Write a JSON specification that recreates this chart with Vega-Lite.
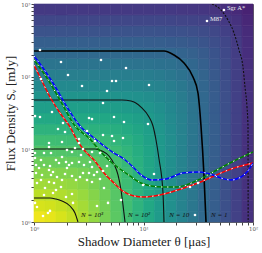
{
"$schema":"https://vega.github.io/schema/vega-lite/v6.json",
"width":219,"height":218,
"autosize":"none",
"padding":{"left":34,"top":4,"right":9,"bottom":31},
"background":"white",
"config":{"view":{"stroke":"#666","strokeWidth":1}},
"datasets":{
"grid":[
{"i":0,"j":0,"L":3.28},{"i":1,"j":0,"L":3.21},{"i":2,"j":0,"L":3.10},{"i":3,"j":0,"L":2.96},{"i":4,"j":0,"L":2.78},{"i":5,"j":0,"L":2.58},{"i":6,"j":0,"L":2.35},{"i":7,"j":0,"L":2.11},{"i":8,"j":0,"L":1.86},{"i":9,"j":0,"L":1.60},{"i":10,"j":0,"L":1.35},{"i":11,"j":0,"L":1.09},{"i":12,"j":0,"L":0.83},{"i":13,"j":0,"L":0.57},{"i":14,"j":0,"L":0.31},{"i":15,"j":0,"L":0.05},{"i":16,"j":0,"L":-0.21},{"i":17,"j":0,"L":-0.47},{"i":18,"j":0,"L":-0.73},{"i":19,"j":0,"L":-0.99},
{"i":0,"j":1,"L":3.09},{"i":1,"j":1,"L":3.05},{"i":2,"j":1,"L":2.97},{"i":3,"j":1,"L":2.86},{"i":4,"j":1,"L":2.72},{"i":5,"j":1,"L":2.53},{"i":6,"j":1,"L":2.32},{"i":7,"j":1,"L":2.09},{"i":8,"j":1,"L":1.85},{"i":9,"j":1,"L":1.60},{"i":10,"j":1,"L":1.35},{"i":11,"j":1,"L":1.09},{"i":12,"j":1,"L":0.83},{"i":13,"j":1,"L":0.57},{"i":14,"j":1,"L":0.31},{"i":15,"j":1,"L":0.05},{"i":16,"j":1,"L":-0.21},{"i":17,"j":1,"L":-0.47},{"i":18,"j":1,"L":-0.73},{"i":19,"j":1,"L":-0.99},
{"i":0,"j":2,"L":2.89},{"i":1,"j":2,"L":2.86},{"i":2,"j":2,"L":2.81},{"i":3,"j":2,"L":2.73},{"i":4,"j":2,"L":2.62},{"i":5,"j":2,"L":2.47},{"i":6,"j":2,"L":2.28},{"i":7,"j":2,"L":2.07},{"i":8,"j":2,"L":1.83},{"i":9,"j":2,"L":1.59},{"i":10,"j":2,"L":1.34},{"i":11,"j":2,"L":1.09},{"i":12,"j":2,"L":0.83},{"i":13,"j":2,"L":0.57},{"i":14,"j":2,"L":0.31},{"i":15,"j":2,"L":0.05},{"i":16,"j":2,"L":-0.21},{"i":17,"j":2,"L":-0.47},{"i":18,"j":2,"L":-0.73},{"i":19,"j":2,"L":-0.99},
{"i":0,"j":3,"L":2.69},{"i":1,"j":3,"L":2.67},{"i":2,"j":3,"L":2.63},{"i":3,"j":3,"L":2.58},{"i":4,"j":3,"L":2.50},{"i":5,"j":3,"L":2.38},{"i":6,"j":3,"L":2.22},{"i":7,"j":3,"L":2.03},{"i":8,"j":3,"L":1.81},{"i":9,"j":3,"L":1.58},{"i":10,"j":3,"L":1.33},{"i":11,"j":3,"L":1.08},{"i":12,"j":3,"L":0.83},{"i":13,"j":3,"L":0.57},{"i":14,"j":3,"L":0.31},{"i":15,"j":3,"L":0.05},{"i":16,"j":3,"L":-0.21},{"i":17,"j":3,"L":-0.47},{"i":18,"j":3,"L":-0.73},{"i":19,"j":3,"L":-0.99},
{"i":0,"j":4,"L":2.47},{"i":1,"j":4,"L":2.46},{"i":2,"j":4,"L":2.44},{"i":3,"j":4,"L":2.41},{"i":4,"j":4,"L":2.35},{"i":5,"j":4,"L":2.26},{"i":6,"j":4,"L":2.14},{"i":7,"j":4,"L":1.97},{"i":8,"j":4,"L":1.78},{"i":9,"j":4,"L":1.56},{"i":10,"j":4,"L":1.32},{"i":11,"j":4,"L":1.07},{"i":12,"j":4,"L":0.82},{"i":13,"j":4,"L":0.57},{"i":14,"j":4,"L":0.31},{"i":15,"j":4,"L":0.05},{"i":16,"j":4,"L":-0.21},{"i":17,"j":4,"L":-0.47},{"i":18,"j":4,"L":-0.73},{"i":19,"j":4,"L":-0.99},
{"i":0,"j":5,"L":2.25},{"i":1,"j":5,"L":2.24},{"i":2,"j":5,"L":2.23},{"i":3,"j":5,"L":2.21},{"i":4,"j":5,"L":2.17},{"i":5,"j":5,"L":2.11},{"i":6,"j":5,"L":2.02},{"i":7,"j":5,"L":1.89},{"i":8,"j":5,"L":1.72},{"i":9,"j":5,"L":1.52},{"i":10,"j":5,"L":1.30},{"i":11,"j":5,"L":1.06},{"i":12,"j":5,"L":0.81},{"i":13,"j":5,"L":0.56},{"i":14,"j":5,"L":0.31},{"i":15,"j":5,"L":0.05},{"i":16,"j":5,"L":-0.21},{"i":17,"j":5,"L":-0.47},{"i":18,"j":5,"L":-0.73},{"i":19,"j":5,"L":-0.99},
{"i":0,"j":6,"L":2.04},{"i":1,"j":6,"L":2.03},{"i":2,"j":6,"L":2.02},{"i":3,"j":6,"L":2.01},{"i":4,"j":6,"L":1.99},{"i":5,"j":6,"L":1.95},{"i":6,"j":6,"L":1.88},{"i":7,"j":6,"L":1.78},{"i":8,"j":6,"L":1.65},{"i":9,"j":6,"L":1.47},{"i":10,"j":6,"L":1.27},{"i":11,"j":6,"L":1.04},{"i":12,"j":6,"L":0.80},{"i":13,"j":6,"L":0.56},{"i":14,"j":6,"L":0.30},{"i":15,"j":6,"L":0.05},{"i":16,"j":6,"L":-0.21},{"i":17,"j":6,"L":-0.47},{"i":18,"j":6,"L":-0.73},{"i":19,"j":6,"L":-0.99},
{"i":0,"j":7,"L":1.82},{"i":1,"j":7,"L":1.82},{"i":2,"j":7,"L":1.81},{"i":3,"j":7,"L":1.80},{"i":4,"j":7,"L":1.79},{"i":5,"j":7,"L":1.76},{"i":6,"j":7,"L":1.72},{"i":7,"j":7,"L":1.65},{"i":8,"j":7,"L":1.54},{"i":9,"j":7,"L":1.40},{"i":10,"j":7,"L":1.22},{"i":11,"j":7,"L":1.02},{"i":12,"j":7,"L":0.79},{"i":13,"j":7,"L":0.55},{"i":14,"j":7,"L":0.30},{"i":15,"j":7,"L":0.05},{"i":16,"j":7,"L":-0.21},{"i":17,"j":7,"L":-0.47},{"i":18,"j":7,"L":-0.73},{"i":19,"j":7,"L":-0.99},
{"i":0,"j":8,"L":1.59},{"i":1,"j":8,"L":1.59},{"i":2,"j":8,"L":1.59},{"i":3,"j":8,"L":1.58},{"i":4,"j":8,"L":1.57},{"i":5,"j":8,"L":1.56},{"i":6,"j":8,"L":1.53},{"i":7,"j":8,"L":1.48},{"i":8,"j":8,"L":1.41},{"i":9,"j":8,"L":1.30},{"i":10,"j":8,"L":1.16},{"i":11,"j":8,"L":0.97},{"i":12,"j":8,"L":0.76},{"i":13,"j":8,"L":0.53},{"i":14,"j":8,"L":0.29},{"i":15,"j":8,"L":0.04},{"i":16,"j":8,"L":-0.21},{"i":17,"j":8,"L":-0.47},{"i":18,"j":8,"L":-0.73},{"i":19,"j":8,"L":-0.99},
{"i":0,"j":9,"L":1.37},{"i":1,"j":9,"L":1.37},{"i":2,"j":9,"L":1.37},{"i":3,"j":9,"L":1.36},{"i":4,"j":9,"L":1.36},{"i":5,"j":9,"L":1.35},{"i":6,"j":9,"L":1.33},{"i":7,"j":9,"L":1.30},{"i":8,"j":9,"L":1.25},{"i":9,"j":9,"L":1.17},{"i":10,"j":9,"L":1.06},{"i":11,"j":9,"L":0.91},{"i":12,"j":9,"L":0.72},{"i":13,"j":9,"L":0.51},{"i":14,"j":9,"L":0.27},{"i":15,"j":9,"L":0.03},{"i":16,"j":9,"L":-0.22},{"i":17,"j":9,"L":-0.47},{"i":18,"j":9,"L":-0.73},{"i":19,"j":9,"L":-0.99},
{"i":0,"j":10,"L":1.15},{"i":1,"j":10,"L":1.15},{"i":2,"j":10,"L":1.15},{"i":3,"j":10,"L":1.15},{"i":4,"j":10,"L":1.14},{"i":5,"j":10,"L":1.14},{"i":6,"j":10,"L":1.12},{"i":7,"j":10,"L":1.11},{"i":8,"j":10,"L":1.07},{"i":9,"j":10,"L":1.02},{"i":10,"j":10,"L":0.94},{"i":11,"j":10,"L":0.82},{"i":12,"j":10,"L":0.66},{"i":13,"j":10,"L":0.47},{"i":14,"j":10,"L":0.25},{"i":15,"j":10,"L":0.02},{"i":16,"j":10,"L":-0.23},{"i":17,"j":10,"L":-0.48},{"i":18,"j":10,"L":-0.73},{"i":19,"j":10,"L":-0.99},
{"i":0,"j":11,"L":0.93},{"i":1,"j":11,"L":0.93},{"i":2,"j":11,"L":0.93},{"i":3,"j":11,"L":0.93},{"i":4,"j":11,"L":0.93},{"i":5,"j":11,"L":0.92},{"i":6,"j":11,"L":0.92},{"i":7,"j":11,"L":0.90},{"i":8,"j":11,"L":0.88},{"i":9,"j":11,"L":0.85},{"i":10,"j":11,"L":0.79},{"i":11,"j":11,"L":0.70},{"i":12,"j":11,"L":0.58},{"i":13,"j":11,"L":0.41},{"i":14,"j":11,"L":0.22},{"i":15,"j":11,"L":0.00},{"i":16,"j":11,"L":-0.24},{"i":17,"j":11,"L":-0.49},{"i":18,"j":11,"L":-0.74},{"i":19,"j":11,"L":-0.99},
{"i":0,"j":12,"L":0.70},{"i":1,"j":12,"L":0.70},{"i":2,"j":12,"L":0.70},{"i":3,"j":12,"L":0.70},{"i":4,"j":12,"L":0.70},{"i":5,"j":12,"L":0.69},{"i":6,"j":12,"L":0.69},{"i":7,"j":12,"L":0.68},{"i":8,"j":12,"L":0.67},{"i":9,"j":12,"L":0.65},{"i":10,"j":12,"L":0.61},{"i":11,"j":12,"L":0.55},{"i":12,"j":12,"L":0.46},{"i":13,"j":12,"L":0.33},{"i":14,"j":12,"L":0.16},{"i":15,"j":12,"L":-0.04},{"i":16,"j":12,"L":-0.26},{"i":17,"j":12,"L":-0.50},{"i":18,"j":12,"L":-0.75},{"i":19,"j":12,"L":-0.99},
{"i":0,"j":13,"L":0.48},{"i":1,"j":13,"L":0.48},{"i":2,"j":13,"L":0.48},{"i":3,"j":13,"L":0.48},{"i":4,"j":13,"L":0.48},{"i":5,"j":13,"L":0.48},{"i":6,"j":13,"L":0.47},{"i":7,"j":13,"L":0.47},{"i":8,"j":13,"L":0.46},{"i":9,"j":13,"L":0.45},{"i":10,"j":13,"L":0.43},{"i":11,"j":13,"L":0.39},{"i":12,"j":13,"L":0.32},{"i":13,"j":13,"L":0.22},{"i":14,"j":13,"L":0.09},{"i":15,"j":13,"L":-0.09},{"i":16,"j":13,"L":-0.29},{"i":17,"j":13,"L":-0.52},{"i":18,"j":13,"L":-0.76},{"i":19,"j":13,"L":-1.00},
{"i":0,"j":14,"L":0.26},{"i":1,"j":14,"L":0.26},{"i":2,"j":14,"L":0.26},{"i":3,"j":14,"L":0.26},{"i":4,"j":14,"L":0.26},{"i":5,"j":14,"L":0.26},{"i":6,"j":14,"L":0.26},{"i":7,"j":14,"L":0.26},{"i":8,"j":14,"L":0.25},{"i":9,"j":14,"L":0.24},{"i":10,"j":14,"L":0.23},{"i":11,"j":14,"L":0.20},{"i":12,"j":14,"L":0.16},{"i":13,"j":14,"L":0.09},{"i":14,"j":14,"L":-0.02},{"i":15,"j":14,"L":-0.16},{"i":16,"j":14,"L":-0.34},{"i":17,"j":14,"L":-0.54},{"i":18,"j":14,"L":-0.77},{"i":19,"j":14,"L":-1.01},
{"i":0,"j":15,"L":0.03},{"i":1,"j":15,"L":0.03},{"i":2,"j":15,"L":0.03},{"i":3,"j":15,"L":0.03},{"i":4,"j":15,"L":0.03},{"i":5,"j":15,"L":0.03},{"i":6,"j":15,"L":0.03},{"i":7,"j":15,"L":0.03},{"i":8,"j":15,"L":0.03},{"i":9,"j":15,"L":0.03},{"i":10,"j":15,"L":0.01},{"i":11,"j":15,"L":0.00},{"i":12,"j":15,"L":-0.03},{"i":13,"j":15,"L":-0.08},{"i":14,"j":15,"L":-0.15},{"i":15,"j":15,"L":-0.26},{"i":16,"j":15,"L":-0.40},{"i":17,"j":15,"L":-0.59},{"i":18,"j":15,"L":-0.80},{"i":19,"j":15,"L":-1.03},
{"i":0,"j":16,"L":-0.19},{"i":1,"j":16,"L":-0.19},{"i":2,"j":16,"L":-0.19},{"i":3,"j":16,"L":-0.19},{"i":4,"j":16,"L":-0.19},{"i":5,"j":16,"L":-0.19},{"i":6,"j":16,"L":-0.19},{"i":7,"j":16,"L":-0.19},{"i":8,"j":16,"L":-0.19},{"i":9,"j":16,"L":-0.19},{"i":10,"j":16,"L":-0.20},{"i":11,"j":16,"L":-0.21},{"i":12,"j":16,"L":-0.23},{"i":13,"j":16,"L":-0.26},{"i":14,"j":16,"L":-0.31},{"i":15,"j":16,"L":-0.39},{"i":16,"j":16,"L":-0.50},{"i":17,"j":16,"L":-0.65},{"i":18,"j":16,"L":-0.84},{"i":19,"j":16,"L":-1.05},
{"i":0,"j":17,"L":-0.41},{"i":1,"j":17,"L":-0.41},{"i":2,"j":17,"L":-0.41},{"i":3,"j":17,"L":-0.41},{"i":4,"j":17,"L":-0.41},{"i":5,"j":17,"L":-0.41},{"i":6,"j":17,"L":-0.41},{"i":7,"j":17,"L":-0.41},{"i":8,"j":17,"L":-0.41},{"i":9,"j":17,"L":-0.41},{"i":10,"j":17,"L":-0.41},{"i":11,"j":17,"L":-0.42},{"i":12,"j":17,"L":-0.44},{"i":13,"j":17,"L":-0.45},{"i":14,"j":17,"L":-0.49},{"i":15,"j":17,"L":-0.54},{"i":16,"j":17,"L":-0.62},{"i":17,"j":17,"L":-0.74},{"i":18,"j":17,"L":-0.90},{"i":19,"j":17,"L":-1.09},
{"i":0,"j":18,"L":-0.63},{"i":1,"j":18,"L":-0.63},{"i":2,"j":18,"L":-0.63},{"i":3,"j":18,"L":-0.63},{"i":4,"j":18,"L":-0.63},{"i":5,"j":18,"L":-0.63},{"i":6,"j":18,"L":-0.63},{"i":7,"j":18,"L":-0.63},{"i":8,"j":18,"L":-0.63},{"i":9,"j":18,"L":-0.63},{"i":10,"j":18,"L":-0.63},{"i":11,"j":18,"L":-0.63},{"i":12,"j":18,"L":-0.65},{"i":13,"j":18,"L":-0.66},{"i":14,"j":18,"L":-0.68},{"i":15,"j":18,"L":-0.71},{"i":16,"j":18,"L":-0.77},{"i":17,"j":18,"L":-0.86},{"i":18,"j":18,"L":-0.98},{"i":19,"j":18,"L":-1.15},
{"i":0,"j":19,"L":-0.86},{"i":1,"j":19,"L":-0.86},{"i":2,"j":19,"L":-0.86},{"i":3,"j":19,"L":-0.86},{"i":4,"j":19,"L":-0.86},{"i":5,"j":19,"L":-0.86},{"i":6,"j":19,"L":-0.86},{"i":7,"j":19,"L":-0.86},{"i":8,"j":19,"L":-0.86},{"i":9,"j":19,"L":-0.86},{"i":10,"j":19,"L":-0.86},{"i":11,"j":19,"L":-0.86},{"i":12,"j":19,"L":-0.86},{"i":13,"j":19,"L":-0.88},{"i":14,"j":19,"L":-0.89},{"i":15,"j":19,"L":-0.91},{"i":16,"j":19,"L":-0.95},{"i":17,"j":19,"L":-1.01},{"i":18,"j":19,"L":-1.10},{"i":19,"j":19,"L":-1.23}
],
"contours":[
{"n":"1000","x":1,"y":2.14},{"n":"1000","x":1.40,"y":2.14},{"n":"1000","x":1.588,"y":2.07},{"n":"1000","x":1.802,"y":1.945},{"n":"1000","x":2.132,"y":1.66},{"n":"1000","x":2.368,"y":1.33},{"n":"1000","x":2.52,"y":1.0},
{"n":"100","x":1,"y":10.1},{"n":"100","x":3.607,"y":10.1},{"n":"100","x":4.178,"y":9.48},{"n":"100","x":4.84,"y":8.09},{"n":"100","x":5.378,"y":6.28},{"n":"100","x":5.85,"y":4.44},{"n":"100","x":6.231,"y":2.76},{"n":"100","x":6.499,"y":1.71},{"n":"100","x":6.78,"y":1},
{"n":"10","x":1,"y":47.7},{"n":"10","x":6.365,"y":47.7},{"n":"10","x":7.69,"y":46.3},{"n":"10","x":9.489,"y":38.2},{"n":"10","x":11.23,"y":27.9},{"n":"10","x":12.21,"y":20.95},{"n":"10","x":13.01,"y":13.44},{"n":"10","x":13.86,"y":7.36},{"n":"10","x":15.07,"y":2.51},{"n":"10","x":15.39,"y":1},
{"n":"1","x":1,"y":225.5},{"n":"1","x":15.39,"y":225.5},{"n":"1","x":18.99,"y":198.6},{"n":"1","x":23.44,"y":154.2},{"n":"1","x":28.32,"y":98.9},{"n":"1","x":31.45,"y":59.6},{"n":"1","x":32.81,"y":31.6},{"n":"1","x":33.5,"y":20.95},{"n":"1","x":35.69,"y":4.3},{"n":"1","x":37.23,"y":1},
{"n":"0.1","x":42.23,"y":1000},{"n":"0.1","x":51.04,"y":826.6},{"n":"0.1","x":59.11,"y":602},{"n":"0.1","x":67.06,"y":398.9},{"n":"0.1","x":74.5,"y":232.8},{"n":"0.1","x":81.04,"y":135.8},{"n":"0.1","x":84.5,"y":72.06},{"n":"0.1","x":88.15,"y":38.2},{"n":"0.1","x":90.0,"y":20.95},{"n":"0.1","x":90.3,"y":1}
],
"curves":[
{"s":"r","x":1.00,"y":144.7},{"s":"r","x":1.134,"y":98.9},{"s":"r","x":1.40,"y":52.5},{"s":"r","x":1.728,"y":31.6},{"s":"r","x":2.132,"y":20.3},{"s":"r","x":2.471,"y":13.4},{"s":"r","x":2.862,"y":9.79},{"s":"r","x":3.532,"y":7.13},{"s":"r","x":4.357,"y":4.72},{"s":"r","x":5.378,"y":3.44},{"s":"r","x":6.635,"y":2.59},{"s":"r","x":8.19,"y":2.28},{"s":"r","x":10.11,"y":2.21},{"s":"r","x":12.47,"y":2.28},{"s":"r","x":15.39,"y":2.43},{"s":"r","x":22.01,"y":2.85},{"s":"r","x":31.45,"y":3.44},{"s":"r","x":44.04,"y":4.30},{"s":"r","x":62.96,"y":5.36},{"s":"r","x":100,"y":6.48},
{"s":"g","x":1.00,"y":169.5},{"s":"g","x":1.314,"y":95.9},{"s":"g","x":1.728,"y":47.7},{"s":"g","x":2.368,"y":20.95},{"s":"g","x":3.247,"y":13.87},{"s":"g","x":4.006,"y":9.48},{"s":"g","x":4.944,"y":6.91},{"s":"g","x":6.102,"y":5.36},{"s":"g","x":7.53,"y":4.30},{"s":"g","x":9.489,"y":3.44},{"s":"g","x":11.71,"y":3.13},{"s":"g","x":15.39,"y":3.03},{"s":"g","x":20.23,"y":3.03},{"s":"g","x":31.45,"y":3.78},{"s":"g","x":44.98,"y":5.03},{"s":"g","x":64.3,"y":6.69},{"s":"g","x":100,"y":9.19},
{"s":"b","x":1.00,"y":192.5},{"s":"b","x":1.208,"y":131.6},{"s":"b","x":1.491,"y":81.8},{"s":"b","x":2.001,"y":38.2},{"s":"b","x":2.631,"y":20.95},{"s":"b","x":3.532,"y":14.32},{"s":"b","x":4.357,"y":11.11},{"s":"b","x":5.378,"y":8.90},{"s":"b","x":6.635,"y":7.36},{"s":"b","x":7.853,"y":5.90},{"s":"b","x":9.489,"y":4.44},{"s":"b","x":11.96,"y":3.78},{"s":"b","x":16.06,"y":3.91},{"s":"b","x":22.95,"y":4.72},{"s":"b","x":32.12,"y":4.88},{"s":"b","x":40.49,"y":4.58},{"s":"b","x":51.04,"y":4.03},{"s":"b","x":62.96,"y":3.78},{"s":"b","x":77.69,"y":4.16},{"s":"b","x":88.15,"y":4.88},{"s":"b","x":100,"y":6.48}
],
"dots":[
{"x":1.134,"y":232.8},{"x":1.764,"y":159.1},{"x":4.091,"y":169.5},{"x":6.92,"y":131.6},{"x":2.044,"y":105.4},{"x":1.158,"y":92.9},{"x":5.157,"y":87.2},{"x":5.61,"y":87.2},{"x":2.744,"y":74.4},{"x":4.642,"y":63.5},
{"x":4.267,"y":43.4},{"x":1.46,"y":32.6},{"x":1.021,"y":28.7},{"x":1.134,"y":27.9},{"x":3.179,"y":27.0},{"x":3.386,"y":26.1},{"x":5.378,"y":27.9},{"x":6.635,"y":23.8},{"x":1.84,"y":23.0},{"x":11.23,"y":76.8},
{"x":10.99,"y":22.3},{"x":1.657,"y":19.05},{"x":1.919,"y":17.32},{"x":3.048,"y":17.88},{"x":4.267,"y":15.75},{"x":2.576,"y":13.87},{"x":5.157,"y":15.26},{"x":6.499,"y":14.32},{"x":1.371,"y":12.22},{"x":1.802,"y":12.62},
{"x":2.576,"y":12.22},{"x":2.223,"y":9.19},{"x":1.234,"y":8.90},{"x":1.43,"y":8.90},{"x":2.001,"y":9.79},{"x":2.687,"y":8.36},{"x":3.386,"y":9.19},{"x":1.158,"y":7.13},{"x":1.043,"y":6.09},{"x":1.234,"y":6.09},
{"x":1.588,"y":7.13},{"x":1.692,"y":6.48},{"x":1.96,"y":6.69},{"x":2.087,"y":6.09},{"x":2.223,"y":6.48},{"x":2.576,"y":6.69},{"x":1.111,"y":5.54},{"x":1.371,"y":5.19},{"x":2.001,"y":5.54},{"x":3.386,"y":5.71},
{"x":1.043,"y":4.72},{"x":1.183,"y":4.44},{"x":1.43,"y":4.44},{"x":1.622,"y":4.16},{"x":3.179,"y":4.72},{"x":3.532,"y":4.44},{"x":1.158,"y":3.78},{"x":1.371,"y":3.55},{"x":1.523,"y":3.44},{"x":1.802,"y":3.78},
{"x":2.418,"y":3.78},{"x":3.048,"y":3.78},{"x":3.386,"y":3.55},{"x":4.357,"y":2.94},{"x":1.588,"y":2.76},{"x":1.234,"y":2.35},{"x":1.96,"y":2.21},{"x":6.231,"y":2.01},{"x":3.607,"y":13.02},{"x":1.371,"y":10.77},
{"x":5.378,"y":13.02},{"x":1.021,"y":8.90},{"x":1.021,"y":7.60},{"x":1.802,"y":7.85},{"x":2.368,"y":10.43},{"x":2.802,"y":10.10},{"x":4.006,"y":8.90},{"x":1.40,"y":5.90},{"x":2.862,"y":6.09},{"x":3.247,"y":6.69},
{"x":1.491,"y":4.88},{"x":1.919,"y":4.58},{"x":2.802,"y":4.72},{"x":3.762,"y":4.88},{"x":4.267,"y":5.03},{"x":4.642,"y":5.90},{"x":2.223,"y":4.30},{"x":2.631,"y":4.16},{"x":4.006,"y":3.91},{"x":1.065,"y":3.44},
{"x":1.26,"y":2.94},{"x":1.764,"y":3.03},{"x":1.491,"y":2.51},{"x":2.223,"y":2.43},{"x":1.021,"y":1.83},{"x":3.762,"y":1.66},{"x":4.741,"y":1.83},{"x":1.40,"y":1.42},{"x":1.208,"y":1.21},{"x":2.271,"y":1.83},
{"x":1.065,"y":1.61},{"x":1.342,"y":1.33},{"x":12.47,"y":4.58},{"x":9.895,"y":3.23},{"x":26.6,"y":3.03},{"x":31.45,"y":3.44},{"x":29.53,"y":1.25},
{"x":54.3,"y":827},{"x":38.0,"y":583}
],
"nlabels":[
{"t":"N = 10³","x":2.63,"y":1.25},{"t":"N = 10²","x":7.07,"y":1.25},{"t":"N = 10","x":16.85,"y":1.25},{"t":"N = 1","x":40.5,"y":1.25}
],
"srcs":[
{"t":"Sgr A*","x":54.3,"y":827},{"t":"M87","x":38.0,"y":583}
]
},
"layer":[
{"data":{"name":"grid"},
 "mark":{"type":"rect","strokeWidth":0.6},
 "encoding":{
  "x":{"field":"i","type":"ordinal","axis":null,"scale":{"paddingInner":0,"paddingOuter":0}},
  "y":{"field":"j","type":"ordinal","axis":null,"sort":"descending","scale":{"paddingInner":0,"paddingOuter":0}},
  "fill":{"field":"L","type":"quantitative","scale":{"scheme":"viridis","domain":[-1.7,3.4]},"legend":null},
  "stroke":{"field":"L","type":"quantitative","scale":{"scheme":"viridis","domain":[-1.7,3.4]},"legend":null}
 }},
{"encoding":{
  "x":{"field":"x","type":"quantitative","scale":{"type":"log","domain":[1,100]},
   "axis":{"orient":"bottom","title":"Shadow Diameter θ [μas]","values":[1,2,3,4,5,6,7,8,9,10,20,30,40,50,60,70,80,90,100],
    "labelExpr":"datum.value==1?'10⁰':datum.value==10?'10¹':datum.value==100?'10²':''",
    "grid":false,"domain":false,"tickSize":3,"tickColor":"#444","labelFontSize":5.5,"labelColor":"#555","labelFont":"DejaVu Serif","labelPadding":1,"labelOverlap":false,"labelFlush":false,
    "titleFont":"Liberation Serif","titleFontSize":13,"titleFontWeight":"normal","titleColor":"#222","titlePadding":4}},
  "y":{"field":"y","type":"quantitative","scale":{"type":"log","domain":[1,1000]},
   "axis":{"orient":"left","title":"Flux Density Sᵥ [mJy]","values":[1,2,3,4,5,6,7,8,9,10,20,30,40,50,60,70,80,90,100,200,300,400,500,600,700,800,900,1000],
    "labelExpr":"datum.value==1?'10⁰':datum.value==10?'10¹':datum.value==100?'10²':datum.value==1000?'10³':''",
    "grid":false,"domain":false,"tickSize":3,"tickColor":"#444","labelFontSize":5.5,"labelColor":"#555","labelFont":"DejaVu Serif","labelPadding":1,"labelOverlap":false,"labelFlush":false,
    "titleFont":"Liberation Serif","titleFontSize":13,"titleFontWeight":"normal","titleColor":"#222","titlePadding":3}}
 },
 "layer":[
  {"data":{"name":"contours"},"transform":[{"filter":"datum.n!='0.1' && datum.n!='1'"}],
   "mark":{"type":"line","color":"#111","strokeWidth":1.1,"interpolate":"monotone","clip":true},
   "encoding":{"detail":{"field":"n"},"order":{"value":null}}},
  {"data":{"name":"contours"},"transform":[{"filter":"datum.n=='1'"}],
   "mark":{"type":"line","color":"#000","strokeWidth":1.6,"interpolate":"monotone","clip":true},
   "encoding":{"order":{"value":null}}},
  {"data":{"name":"contours"},"transform":[{"filter":"datum.n=='0.1'"}],
   "mark":{"type":"line","color":"#111","strokeWidth":1.1,"strokeDash":[2,1.5],"interpolate":"monotone","clip":true},
   "encoding":{"order":{"value":null}}},
  {"data":{"name":"curves"},
   "mark":{"type":"line","strokeWidth":1.5,"interpolate":"monotone","clip":true},
   "encoding":{"color":{"field":"s","type":"nominal","scale":{"domain":["r","g","b"],"range":["#ff0000","#008000","#0000ff"]},"legend":null},"order":{"value":null}}},
  {"data":{"name":"curves"},
   "mark":{"type":"line","strokeWidth":1.0,"color":"white","strokeDash":[1.5,4.5],"interpolate":"monotone","clip":true},
   "encoding":{"detail":{"field":"s"},"order":{"value":null}}},
  {"data":{"name":"dots"},
   "mark":{"type":"circle","color":"white","opacity":1,"size":7,"clip":true},
   "encoding":{}},
  {"data":{"name":"nlabels"},
   "mark":{"type":"text","align":"left","baseline":"middle","dx":1,"font":"Liberation Serif","fontStyle":"italic","fontSize":7,"color":"#111"},
   "encoding":{"text":{"field":"t"}}},
  {"data":{"name":"srcs"},
   "mark":{"type":"text","align":"left","baseline":"middle","dx":3,"dy":-2,"font":"Liberation Serif","fontSize":6.5,"color":"#eeeeee"},
   "encoding":{"text":{"field":"t"}}}
 ]}
],
"resolve":{"scale":{"x":"independent","y":"independent"}}
}
